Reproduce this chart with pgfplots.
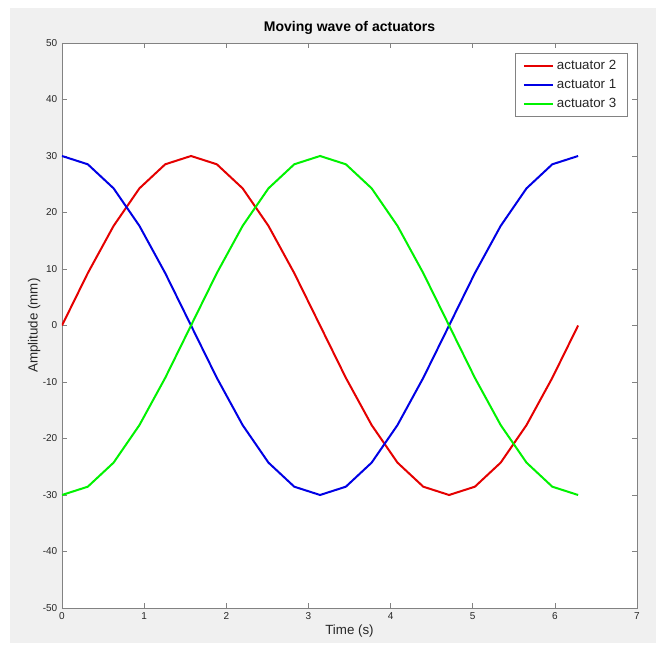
\documentclass[border=0pt]{standalone}
\usepackage{fontspec}
\setmainfont{Liberation Sans}
\usepackage{pgfplots}
\pgfplotsset{compat=1.18}
\usepackage{pgfplotstable}
\definecolor{figgray}{RGB}{240,240,240}
\definecolor{axgray}{RGB}{130,130,130}
\definecolor{txtgray}{RGB}{38,38,38}

% t = k*pi/10, k = 0..20
\pgfplotstableread{
t a1 a2 a3
0.0000 30.00 0.00 -30.00
0.3142 28.53 9.27 -28.53
0.6283 24.27 17.63 -24.27
0.9425 17.63 24.27 -17.63
1.2566 9.27 28.53 -9.27
1.5708 0.00 30.00 0.00
1.8850 -9.27 28.53 9.27
2.1991 -17.63 24.27 17.63
2.5133 -24.27 17.63 24.27
2.8274 -28.53 9.27 28.53
3.1416 -30.00 0.00 30.00
3.4558 -28.53 -9.27 28.53
3.7699 -24.27 -17.63 24.27
4.0841 -17.63 -24.27 17.63
4.3982 -9.27 -28.53 9.27
4.7124 0.00 -30.00 0.00
5.0265 9.27 -28.53 -9.27
5.3407 17.63 -24.27 -17.63
5.6549 24.27 -17.63 -24.27
5.9690 28.53 -9.27 -28.53
6.2832 30.00 0.00 -30.00
}\wave

\begin{document}
\begin{tikzpicture}
\fill[white] (0,0) rectangle (492pt,483.75pt);
\fill[figgray] (7.5pt,1.5pt) rectangle (492pt,477.75pt);
\begin{axis}[
    at={(46.5pt,27.75pt)}, anchor=south west,
    scale only axis,
    width=431.25pt, height=423.75pt,
    xmin=0, xmax=7, ymin=-50, ymax=50,
    xtick={0,1,...,7},
    ytick={-50,-40,...,50},
    tick align=inside,
    major tick length=4pt,
    axis line style={axgray},
    every tick/.style={axgray},
    axis background/.style={fill=white},
    tick label style={font=\fontsize{7.5}{9}\selectfont, text=txtgray},
    /pgf/number format/assume math mode=true,
    title={\textbf{Moving wave of actuators}},
    title style={font=\fontsize{10.5}{12}\selectfont, text=black, yshift=-3pt},
    xlabel={Time (s)},
    ylabel={Amplitude (mm)},
    label style={font=\fontsize{10}{12}\selectfont, text=txtgray},
    xlabel style={yshift=3pt},
    ylabel style={yshift=-5pt},
    legend style={at={(0.983,0.982)}, anchor=north east,
        font=\fontsize{10}{12}\selectfont, draw=axgray, text=txtgray,
        inner xsep=6pt, inner ysep=3pt, row sep=2pt},
    legend cell align=left,
    legend image code/.code={\draw[#1, line width=1.5pt] (0pt,0pt) -- (22pt,0pt);},
    every axis plot/.append style={line width=1.5pt},
]
\addplot[color=red!90!black, mark=none] table[x=t, y=a2] {\wave};
\addlegendentry{actuator 2}
\addplot[color=blue!90!black, mark=none] table[x=t, y=a1] {\wave};
\addlegendentry{actuator 1}
\addplot[color=green!95!black, mark=none] table[x=t, y=a3] {\wave};
\addlegendentry{actuator 3}
\end{axis}
\end{tikzpicture}
\end{document}
